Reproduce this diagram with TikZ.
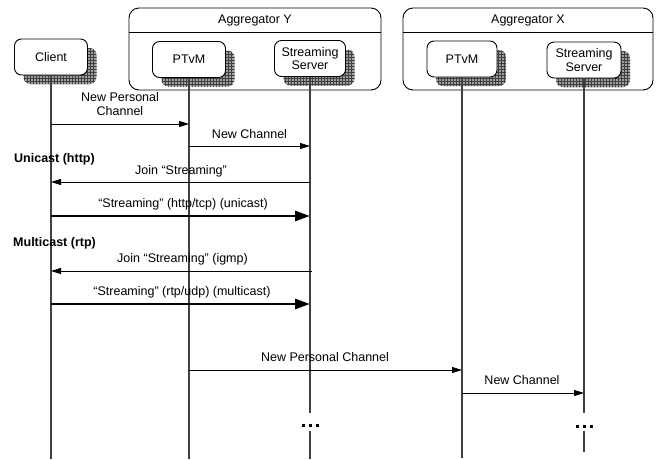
\documentclass[tikz,border=0pt]{standalone}
\usepackage{fontspec}
\setmainfont{Liberation Sans}
\usetikzlibrary{arrows.meta,shadows,patterns}
\begin{document}
\begin{tikzpicture}[x=1pt,y=-1pt,
  every node/.style={font=\fontsize{12.5}{13.5}\selectfont},
  dropshade/.style={
    general shadow={fill=black!38, shadow xshift=9pt, shadow yshift=-9pt},
    general shadow={pattern=grid, pattern color=black!75, shadow xshift=9pt, shadow yshift=-9pt}},
  actor/.style={draw=black, line width=0.9pt, fill=white, rounded corners=7pt,
    minimum height=36pt, inner sep=0pt, align=center, dropshade},
  group/.style={draw=black, line width=0.9pt, rounded corners=10pt},
  lifeline/.style={draw=black!75, line width=1.3pt},
  msg/.style={draw=black, line width=0.9pt, -{Triangle[length=10pt,width=6pt]}},
  bigmsg/.style={draw=black, line width=2.8pt, -{Triangle[length=15pt,width=10pt]}},
  lbl/.style={anchor=base, inner sep=0pt},
  phase/.style={anchor=base west, inner sep=0pt, font=\fontsize{12.5}{13.5}\selectfont\bfseries},
  dot/.style={fill=black}
]
\useasboundingbox (0,0) rectangle (659,459);

% aggregator frames with title bar
\draw[group] (129,8) rectangle (381,90);
\draw[line width=0.9pt] (129,32) -- (381,32);
\node[lbl] (aggY) at (255,23) {Aggregator Y};
\draw[group] (403,8) rectangle (653,90);
\draw[line width=0.9pt] (403,32) -- (653,32);
\node[lbl] (aggX) at (528,23) {Aggregator X};

% participants
\node[actor, minimum width=73pt] (cl) at (51,57) {Client};
\node[actor, minimum width=73pt] (py) at (189,59.5) {PTvM};
\node[actor, minimum width=71pt] (sy) at (310,58.5) {Streaming\\Server};
\node[actor, minimum width=70pt] (px) at (462,59) {PTvM};
\node[actor, minimum width=74pt] (sx) at (584,60) {Streaming\\Server};

% lifelines
\coordinate (bot) at (0,459);
\coordinate (gapA) at (0,413);
\coordinate (gapB) at (0,431);
\coordinate (endX) at (0,452);
\path[lifeline] (cl.south) -- (cl |- bot);
\path[lifeline] (py.south) -- (py |- bot);
\path[lifeline] (sy.south) -- (sy |- gapA);
\path[lifeline] (sy |- gapB) -- (sy |- bot);
\path[lifeline] (px.south) -- (px |- 0,458);
\path[lifeline] (sx.south) -- (sx |- gapA);
\path[lifeline] (sx |- gapB) -- (sx |- endX);

% continuation marks
\coordinate (dy) at (sy |- 0,425);
\coordinate (dx) at (sx |- 0,426);
\foreach \c in {dy,dx}{
  \foreach \o in {-7,0,7}{
    \fill[dot] ([shift={(\o-1.5,-1.5)}]\c) rectangle ([shift={(\o+1.5,1.5)}]\c);
  }
}

% messages
\coordinate (r1) at (0,124);
\draw[msg] (cl |- r1) -- (py |- r1);
\node[lbl, align=center] (t1) at (120,115) {New Personal\\Channel};

\coordinate (r2) at (0,146);
\draw[msg] (py |- r2) -- (sy |- r2);
\node[lbl] (t2) at (249.5,138) {New Channel};

\node[phase] (uni) at (14,162) {Unicast (http)};

\coordinate (r3) at (0,182);
\draw[msg] (sy |- r3) -- (cl |- r3);
\node[lbl] (t3) at (181,174.5) {Join “Streaming”};

\coordinate (r4) at (0,216);
\draw[bigmsg] (cl |- r4) -- (sy |- r4);
\node[lbl] (t4) at (183,207.5) {“Streaming” (http/tcp) (unicast)};

\node[phase] (multi) at (13,246.5) {Multicast (rtp)};

\coordinate (r5) at (0,271);
\draw[msg] ([xshift=2pt]sy |- r5) -- (cl |- r5);
\node[lbl] (t5) at (182.5,262.5) {Join “Streaming” (igmp)};

\coordinate (r6) at (0,304);
\draw[bigmsg] (cl |- r6) -- (sy |- r6);
\node[lbl] (t6) at (182,295.5) {“Streaming” (rtp/udp) (multicast)};

\coordinate (r7) at (0,370);
\draw[msg] (py |- r7) -- (px |- r7);
\node[lbl] (t7) at (325,361.5) {New Personal Channel};

\coordinate (r8) at (0,393);
\draw[msg] (px |- r8) -- (sx |- r8);
\node[lbl] (t8) at (522,384.5) {New Channel};
\end{tikzpicture}
\end{document}
